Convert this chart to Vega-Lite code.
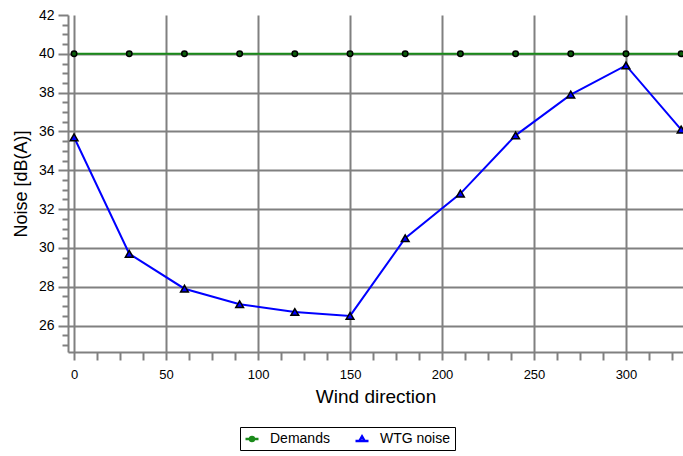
{
  "$schema": "https://vega.github.io/schema/vega-lite/v6.json",
  "width": 615,
  "height": 337,
  "autosize": {"type": "none"},
  "padding": {"left": 68, "top": 15, "right": 0, "bottom": 104},
  "background": "white",
  "config": {
    "view": {"stroke": null},
    "font": "Liberation Sans",
    "axis": {
      "domainColor": "#808080",
      "domainWidth": 2,
      "tickColor": "#808080",
      "tickWidth": 2,
      "gridColor": "#808080",
      "gridWidth": 2,
      "labelFont": "Liberation Sans",
      "labelFontSize": 13,
      "labelColor": "black",
      "titleFont": "Liberation Sans",
      "titleFontSize": 18,
      "titleFontWeight": "normal",
      "titleColor": "black"
    }
  },
  "data": {
    "values": [
      {"dir": 0, "series": "Demands", "noise": 40},
      {"dir": 30, "series": "Demands", "noise": 40},
      {"dir": 60, "series": "Demands", "noise": 40},
      {"dir": 90, "series": "Demands", "noise": 40},
      {"dir": 120, "series": "Demands", "noise": 40},
      {"dir": 150, "series": "Demands", "noise": 40},
      {"dir": 180, "series": "Demands", "noise": 40},
      {"dir": 210, "series": "Demands", "noise": 40},
      {"dir": 240, "series": "Demands", "noise": 40},
      {"dir": 270, "series": "Demands", "noise": 40},
      {"dir": 300, "series": "Demands", "noise": 40},
      {"dir": 330, "series": "Demands", "noise": 40},
      {"dir": 0, "series": "WTG noise", "noise": 35.7},
      {"dir": 30, "series": "WTG noise", "noise": 29.7},
      {"dir": 60, "series": "WTG noise", "noise": 27.9},
      {"dir": 90, "series": "WTG noise", "noise": 27.1},
      {"dir": 120, "series": "WTG noise", "noise": 26.7},
      {"dir": 150, "series": "WTG noise", "noise": 26.5},
      {"dir": 180, "series": "WTG noise", "noise": 30.5},
      {"dir": 210, "series": "WTG noise", "noise": 32.8},
      {"dir": 240, "series": "WTG noise", "noise": 35.8},
      {"dir": 270, "series": "WTG noise", "noise": 37.9},
      {"dir": 300, "series": "WTG noise", "noise": 39.4},
      {"dir": 330, "series": "WTG noise", "noise": 36.1}
    ]
  },
  "encoding": {
    "x": {
      "field": "dir",
      "type": "quantitative",
      "scale": {"domain": [-3.3, 331], "nice": false, "zero": false},
      "axis": {
        "title": "Wind direction",
        "titleFontSize": 19,
        "values": [0, 12.5, 25, 37.5, 50, 62.5, 75, 87.5, 100, 112.5, 125, 137.5, 150, 162.5, 175, 187.5, 200, 212.5, 225, 237.5, 250, 262.5, 275, 287.5, 300, 312.5, 325],
        "labelExpr": "datum.value % 50 == 0 ? format(datum.value, 'd') : ''",
        "tickSize": 8,
        "labelPadding": 8,
        "titlePadding": 6,
        "gridOpacity": {"condition": {"test": "datum.value % 50 == 0", "value": 1}, "value": 0}
      }
    },
    "y": {
      "field": "noise",
      "type": "quantitative",
      "scale": {"domain": [24.64, 42], "nice": false, "zero": false},
      "axis": {
        "title": "Noise [dB(A)]",
        "labelFontSize": 14,
        "values": [25, 25.5, 26, 26.5, 27, 27.5, 28, 28.5, 29, 29.5, 30, 30.5, 31, 31.5, 32, 32.5, 33, 33.5, 34, 34.5, 35, 35.5, 36, 36.5, 37, 37.5, 38, 38.5, 39, 39.5, 40, 40.5, 41, 41.5, 42],
        "labelExpr": "datum.value % 2 == 0 ? format(datum.value, 'd') : ''",
        "tickSize": {"condition": {"test": "datum.value % 2 == 0", "value": 10}, "value": 6},
        "labelPadding": 4,
        "titlePadding": 8,
        "gridOpacity": {"condition": {"test": "datum.value % 2 == 0 && datum.value < 42", "value": 1}, "value": 0}
      }
    }
  },
  "layer": [
    {
      "mark": {"type": "line", "strokeWidth": 2, "color": "#1a8a1a"},
      "transform": [{"filter": "datum.series == 'Demands'"}],
      "encoding": {}
    },
    {
      "mark": {"type": "line", "strokeWidth": 2, "color": "#0000ff"},
      "transform": [{"filter": "datum.series == 'WTG noise'"}],
      "encoding": {}
    },
    {
      "transform": [{"filter": "datum.series == 'Demands'"}],
      "mark": {"type": "point", "shape": "circle", "filled": true, "size": 30, "fill": "#0b5e0b", "stroke": "black", "strokeWidth": 1.5, "opacity": 1}
    },
    {
      "transform": [{"filter": "datum.series == 'WTG noise'"}],
      "mark": {"type": "point", "shape": "triangle-up", "filled": true, "size": 60, "fill": "#0000ff", "stroke": "black", "strokeWidth": 1.5, "opacity": 1}
    },
    {
      "transform": [{"filter": "datum.noise > 100"}],
      "mark": {"type": "point", "filled": false, "strokeWidth": 2.5},
      "encoding": {
        "color": {
          "field": "series",
          "type": "nominal",
          "scale": {"domain": ["Demands", "WTG noise"], "range": ["#1a8a1a", "#0000ff"]},
          "legend": {
            "title": null,
            "orient": "none",
            "legendX": 172,
            "legendY": 412,
            "direction": "horizontal",
            "strokeColor": "black",
            "padding": 4,
            "symbolSize": 169,
            "symbolStrokeWidth": 2.5,
            "symbolOpacity": 1,
            "labelFont": "Liberation Sans",
            "labelFontSize": 14,
            "labelColor": "black",
            "labelOffset": 10,
            "columnPadding": 20
          }
        },
        "shape": {
          "field": "series",
          "type": "nominal",
          "scale": {"domain": ["Demands", "WTG noise"], "range": ["M-1,0L1,0M-0.3,0A0.3,0.3 0 1,0 0.3,0A0.3,0.3 0 1,0 -0.3,0Z", "M-1,0.3L1,0.3M0,-0.4L0.4,0.3L-0.4,0.3Z"]}
        }
      }
    }
  ]
}
